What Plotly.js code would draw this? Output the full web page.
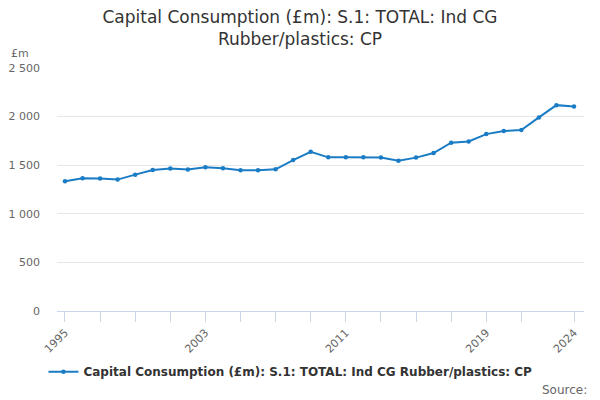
<!DOCTYPE html>
<html>
<head>
<meta charset="utf-8">
<script src="https://cdn.plot.ly/plotly-3.0.1.min.js"></script>
<style>html,body{margin:0;padding:0;background:#fff}#chart{width:600px;height:400px}</style>
</head>
<body>
<div id="chart"></div>
<script>
const years = [1995,1996,1997,1998,1999,2000,2001,2002,2003,2004,2005,2006,2007,2008,2009,
  2010,2011,2012,2013,2014,2015,2016,2017,2018,2019,2020,2021,2022,2023,2024];
const values = [1335,1365,1362,1352,1403,1451,1465,1455,1478,1468,1448,1448,1458,1553,1638,
  1581,1581,1581,1578,1547,1578,1625,1732,1745,1820,1851,1861,1992,2118,2105];
const xTickVals = [1995,1997,1999,2001,2003,2005,2007,2009,2011,2013,2015,2017,2019,2021,2024];
const xTickText = ["1995","","","","2003","","","","2011","","","","2019","","2024"];
const yTickVals = [0,500,1000,1500,2000,2500];
const seriesName = "Capital Consumption (£m): S.1: TOTAL: Ind CG Rubber/plastics: CP";
const titleText = "Capital Consumption (£m): S.1: TOTAL: Ind CG<br>Rubber/plastics: CP";

const font = "DejaVu Sans, sans-serif";
const trace = {
  x: years, y: values, name: seriesName, type: "scatter", mode: "lines+markers",
  line: {color: "#1a7cc5", width: 2},
  marker: {color: "#1a7cc5", size: 4.5},
  showlegend: true
};
const layout = {
  width: 600, height: 400,
  margin: {l: 57, r: 16, t: 68, b: 89, autoexpand: false},
  paper_bgcolor: "#fff", plot_bgcolor: "#fff",
  separators: ". ",
  font: {family: font, color: "#666", size: 11},
  title: {text: titleText, x: 0.5, xanchor: "center", y: 0.9425, yanchor: "top",
    font: {family: font, size: 17, color: "#333"}},
  xaxis: {
    range: [1994.545, 2024.57], tickmode: "array", tickvals: xTickVals, ticktext: xTickText,
    tickangle: -45, ticks: "outside", ticklen: 10, tickcolor: "#ccd6eb", tickwidth: 1,
    showline: true, linecolor: "#ccd6eb", linewidth: 1, showgrid: false, zeroline: false,
    tickfont: {family: font, size: 11, color: "#666"}, fixedrange: true
  },
  yaxis: {
    range: [0, 2500], tickmode: "array", tickvals: yTickVals, tickformat: ",d",
    showgrid: true, gridcolor: "#e6e6e6", gridwidth: 1, zeroline: false, showline: false,
    ticks: "", ticklabelstandoff: 16,
    tickfont: {family: font, size: 11, color: "#666"}, fixedrange: true
  },
  legend: {orientation: "h", x: 0.443, xanchor: "center", y: -0.19, yanchor: "top",
    font: {family: font, size: 12, color: "#333", weight: "bold"}},
  annotations: [
    {text: "£m", xref: "paper", yref: "paper", x: -0.091, y: 1.059, xanchor: "left", yanchor: "middle",
     showarrow: false, font: {family: font, size: 11, color: "#666"}},
    {text: "Source:", xref: "paper", yref: "paper", x: 1.0095, y: -0.326, xanchor: "right", yanchor: "middle",
     showarrow: false, font: {family: font, size: 12, color: "#666"}}
  ]
};
Plotly.newPlot("chart", [trace], layout, {displayModeBar: false, staticPlot: true});
</script>
</body>
</html>
